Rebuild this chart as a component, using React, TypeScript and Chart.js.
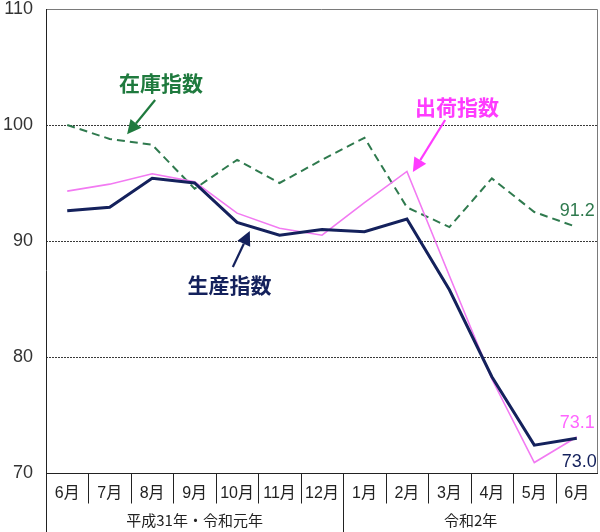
import React, { useEffect, useRef } from "react";
import { Chart, registerables } from "chart.js";

Chart.register(...registerables);

const months = ["6月", "7月", "8月", "9月", "10月", "11月", "12月", "1月", "2月", "3月", "4月", "5月", "6月"];
const yearGroups = ["平成31年・令和元年", "令和2年"];
const yearGroupSpans = [7, 6];
const production = [92.6, 92.9, 95.4, 95.0, 91.6, 90.5, 91.0, 90.8, 91.9, 85.8, 78.3, 72.4, 73.0];
const shipments = [94.3, 94.9, 95.8, 95.1, 92.4, 91.1, 90.5, 93.3, 96.0, 87.0, 78.1, 70.9, 73.1];
const inventory = [100.0, 98.8, 98.3, 94.5, 97.0, 95.0, 97.0, 98.9, 92.9, 91.2, 95.4, 92.5, 91.2];
const yMin = 70;
const yMax = 110;
const yStep = 10;

const NAVY = "#14215c";
const MAGENTA = "#f27af2";
const MAGENTA_TEXT = "#ff3cff";
const MAGENTA_VALUE = "#ff66ff";
const GREEN = "#2f7a4e";
const GREEN_TEXT = "#1f7a3e";

const NUM_FONT = '"Liberation Sans", "Noto Sans CJK JP", sans-serif';
const CJK_FONT = '"Noto Sans CJK JP", sans-serif';

// annotation positions in data coordinates (category index, value)
const annotations = [
  { text: "在庫指数", color: GREEN_TEXT, at: [2.21, 103.6], tail: [2.07, 102.16], tip: [1.41, 99.2] },
  { text: "出荷指数", color: MAGENTA_TEXT, at: [9.18, 101.55], tail: [8.9, 100.43], tip: [8.14, 95.95] },
  { text: "生産指数", color: NAVY, at: [3.82, 86.2], tail: [3.9, 87.76], tip: [4.3, 90.86] },
];

const gridAndFramePlugin = {
  id: "gridAndFrame",
  beforeDatasetsDraw(chart: any) {
    const { ctx, chartArea: ca } = chart;
    const ys = chart.scales.y;
    ctx.save();
    ctx.strokeStyle = "#3a3a3a";
    ctx.lineWidth = 1;
    ctx.setLineDash([2, 1]);
    for (let v = yMin + yStep; v < yMax; v += yStep) {
      const y = Math.round(ys.getPixelForValue(v)) + 0.5;
      ctx.beginPath();
      ctx.moveTo(ca.left, y);
      ctx.lineTo(ca.right, y);
      ctx.stroke();
    }
    ctx.setLineDash([]);
    // top and right frame
    ctx.strokeStyle = "#7a7a7a";
    const top = Math.round(ys.getPixelForValue(yMax)) + 0.5;
    ctx.beginPath();
    ctx.moveTo(ca.left, top);
    ctx.lineTo(ca.right - 0.5, top);
    ctx.lineTo(ca.right - 0.5, ca.bottom);
    ctx.stroke();
    ctx.restore();
  },
  afterDraw(chart: any) {
    const { ctx, chartArea: ca } = chart;
    const xs = chart.scales.x;
    const ys = chart.scales.y;
    const H = chart.height;
    ctx.save();
    ctx.strokeStyle = "#222";
    ctx.lineWidth = 1;
    const bottom = Math.round(ys.getPixelForValue(yMin)) + 0.5;
    // y tick labels
    ctx.fillStyle = "#333";
    ctx.font = `18px ${NUM_FONT}`;
    ctx.textAlign = "right";
    ctx.textBaseline = "middle";
    ys.ticks.forEach((t: any) => {
      ctx.fillText(String(t.value), ca.left - 13, ys.getPixelForValue(t.value));
    });
    // left axis
    ctx.beginPath();
    ctx.moveTo(ca.left + 0.5, ca.top);
    ctx.lineTo(ca.left + 0.5, H);
    ctx.stroke();
    // bottom axis
    ctx.beginPath();
    ctx.moveTo(ca.left, bottom);
    ctx.lineTo(ca.right, bottom);
    ctx.stroke();
    const half = (xs.getPixelForValue(1) - xs.getPixelForValue(0)) / 2;
    const edge = (i: number) =>
      i < months.length ? xs.getPixelForValue(i) - half : xs.getPixelForValue(months.length - 1) + half;
    // month dividers
    for (let i = 1; i < months.length; i++) {
      const x = Math.round(edge(i)) + 0.5;
      ctx.beginPath();
      ctx.moveTo(x, bottom);
      ctx.lineTo(x, bottom + 30);
      ctx.stroke();
    }
    // group dividers
    let idx = 0;
    for (let g = 0; g < yearGroupSpans.length; g++) {
      if (idx > 0) {
        const x = Math.round(edge(idx)) + 0.5;
        ctx.beginPath();
        ctx.moveTo(x, bottom);
        ctx.lineTo(x, H);
        ctx.stroke();
      }
      idx += yearGroupSpans[g];
    }
    // month labels
    ctx.fillStyle = "#222";
    ctx.textAlign = "center";
    ctx.textBaseline = "middle";
    ctx.font = `16px ${NUM_FONT}`;
    months.forEach((m, i) => {
      ctx.fillText(m, xs.getPixelForValue(i), bottom + 20);
    });
    // group labels
    ctx.font = `15px ${CJK_FONT}`;
    idx = 0;
    yearGroups.forEach((g, gi) => {
      const x0 = edge(idx);
      const x1 = edge(idx + yearGroupSpans[gi]);
      ctx.fillText(g, (x0 + x1) / 2, bottom + 47);
      idx += yearGroupSpans[gi];
    });

    // annotations with arrows
    annotations.forEach((a) => {
      ctx.fillStyle = a.color;
      ctx.strokeStyle = a.color;
      ctx.font = `bold 21px ${CJK_FONT}`;
      ctx.textAlign = "center";
      ctx.textBaseline = "middle";
      ctx.fillText(a.text, xs.getPixelForValue(a.at[0]), ys.getPixelForValue(a.at[1]));
      const tx = xs.getPixelForValue(a.tail[0]);
      const ty = ys.getPixelForValue(a.tail[1]);
      const hx = xs.getPixelForValue(a.tip[0]);
      const hy = ys.getPixelForValue(a.tip[1]);
      const ang = Math.atan2(hy - ty, hx - tx);
      const hl = 14;
      const hw = 7;
      const bx = hx - hl * Math.cos(ang);
      const by = hy - hl * Math.sin(ang);
      ctx.lineWidth = 2.2;
      ctx.beginPath();
      ctx.moveTo(tx, ty);
      ctx.lineTo(bx, by);
      ctx.stroke();
      ctx.beginPath();
      ctx.moveTo(hx, hy);
      ctx.lineTo(bx + hw * Math.sin(ang), by - hw * Math.cos(ang));
      ctx.lineTo(bx - hw * Math.sin(ang), by + hw * Math.cos(ang));
      ctx.closePath();
      ctx.fill();
    });

    // end value labels
    const last = months.length - 1;
    const lx = xs.getPixelForValue(last) + 18;
    ctx.font = `18px ${NUM_FONT}`;
    ctx.textAlign = "right";
    ctx.fillStyle = GREEN;
    ctx.fillText(inventory[last].toFixed(1), lx, ys.getPixelForValue(inventory[last]) - 16);
    ctx.fillStyle = MAGENTA_VALUE;
    ctx.fillText(shipments[last].toFixed(1), lx, ys.getPixelForValue(shipments[last]) - 14);
    ctx.fillStyle = NAVY;
    ctx.fillText(production[last].toFixed(1), lx + 2, ys.getPixelForValue(production[last]) + 24);
    ctx.restore();
  },
};

export default function App() {
  const ref = useRef<HTMLCanvasElement | null>(null);
  useEffect(() => {
    if (!ref.current) return;
    const chart = new Chart(ref.current, {
      type: "line",
      data: {
        labels: months,
        datasets: [
          {
            label: "生産指数",
            data: production,
            borderColor: NAVY,
            borderWidth: 3,
            pointRadius: 0,
            tension: 0,
            order: 1,
          },
          {
            label: "出荷指数",
            data: shipments,
            borderColor: MAGENTA,
            borderWidth: 1.6,
            pointRadius: 0,
            tension: 0,
            order: 2,
          },
          {
            label: "在庫指数",
            data: inventory,
            borderColor: GREEN,
            borderWidth: 2,
            borderDash: [8, 5],
            pointRadius: 0,
            tension: 0,
            order: 3,
          },
        ],
      },
      options: {
        animation: false,
        responsive: false,
        maintainAspectRatio: false,
        devicePixelRatio: 1,
        layout: { autoPadding: false, padding: { top: 9, right: 2, left: 0, bottom: 0 } },
        plugins: { legend: { display: false }, tooltip: { enabled: false } },
        scales: {
          x: {
            type: "category",
            offset: true,
            grid: { display: false, drawTicks: false },
            border: { display: false },
            ticks: { display: false },
            afterFit: (s: any) => {
              s.height = 59;
            },
          },
          y: {
            min: yMin,
            max: yMax,
            grid: { display: false, drawTicks: false },
            border: { display: false },
            ticks: { display: false, stepSize: yStep },
            afterFit: (s: any) => {
              s.width = 46;
            },
          },
        },
      },
      plugins: [gridAndFramePlugin],
    });
    return () => chart.destroy();
  }, []);
  return (
    <div style={{ position: "absolute", left: 0, top: 0, width: 600, height: 532, background: "#fff" }}>
      <canvas ref={ref} width={600} height={532} style={{ display: "block" }} />
    </div>
  );
}
